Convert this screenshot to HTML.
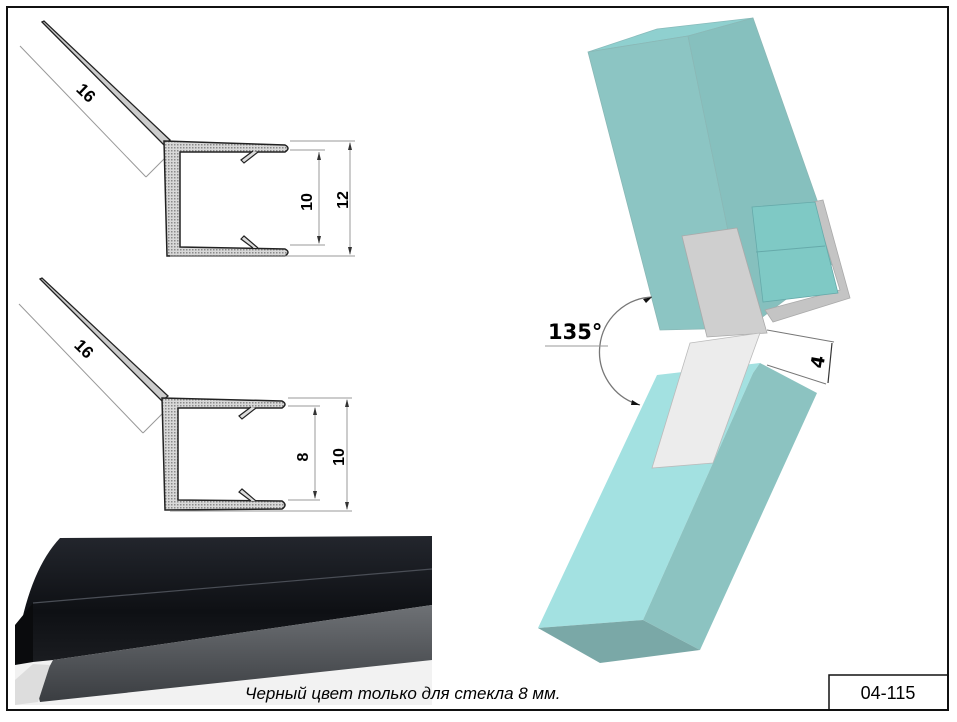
<!DOCTYPE html>
<html><head><meta charset="utf-8"><style>
html,body{margin:0;padding:0;background:#fff;}
svg{display:block;}
</style></head><body>
<svg width="957" height="722" viewBox="0 0 957 722" xmlns="http://www.w3.org/2000/svg" font-family="Liberation Sans, sans-serif">
<defs>
<pattern id="dots" width="3" height="3" patternUnits="userSpaceOnUse"><rect width="3" height="3" fill="#d8d8d8"/><rect width="1.5" height="1.5" fill="#8a8a8a"/></pattern>
<linearGradient id="blk" x1="0" y1="0" x2="0" y2="1"><stop offset="0" stop-color="#23262d"/><stop offset="0.6" stop-color="#0e1014"/><stop offset="1" stop-color="#1a1c20"/></linearGradient>
<linearGradient id="gry" x1="0" y1="0" x2="0" y2="1"><stop offset="0" stop-color="#6e7175"/><stop offset="1" stop-color="#3a3d41"/></linearGradient>
</defs>
<rect x="0" y="0" width="957" height="722" fill="#fff"/>
<rect x="7" y="7" width="941" height="703" fill="none" stroke="#111" stroke-width="2"/>
<rect x="829" y="675" width="119" height="35" fill="none" stroke="#111" stroke-width="1.5"/>

<!-- Profile 1 -->
<g stroke="#222">
<line x1="20" y1="46" x2="146" y2="177" stroke="#999" stroke-width="1"/>
<line x1="146" y1="177" x2="165" y2="158" stroke="#999" stroke-width="1"/>
<polygon points="42,22 44,21 170,140 164,145" fill="#ccc" stroke-width="1.3"/>
<path d="M164,141 L285,145 Q291,148 285,152 L180,152 L180,247 L285,249 Q291,252 285,256 L167,256 Z" fill="url(#dots)" stroke-width="1.5"/>
<path d="M258,152 L244,163 L241,160 L253,151" fill="#ddd" stroke-width="1.2"/>
<path d="M258,248 L244,236 L241,239 L253,248" fill="#ddd" stroke-width="1.2"/>
<g stroke="#999" stroke-width="1" fill="none">
<line x1="290" y1="150" x2="325" y2="150"/><line x1="290" y1="245" x2="325" y2="245"/>
<line x1="290" y1="141" x2="355" y2="141"/><line x1="170" y1="256" x2="355" y2="256"/>
<line x1="319" y1="152" x2="319" y2="243"/><line x1="350" y1="143" x2="350" y2="254"/>
</g>
<path d="M319,152 l-2,8 h4 z M319,244 l-2,-8 h4 z M350,142 l-2,8 h4 z M350,255 l-2,-8 h4 z" fill="#333" stroke="none"/>
</g>
<text transform="translate(312,202) rotate(-90)" font-size="16" font-weight="bold" text-anchor="middle">10</text>
<text transform="translate(348,200) rotate(-90)" font-size="16" font-weight="bold" text-anchor="middle">12</text>
<text transform="translate(82,97) rotate(44)" font-size="17" font-weight="bold" text-anchor="middle">16</text>

<!-- Profile 2 -->
<g stroke="#222">
<line x1="19" y1="304" x2="143" y2="433" stroke="#999" stroke-width="1"/>
<line x1="143" y1="433" x2="163" y2="413" stroke="#999" stroke-width="1"/>
<polygon points="40,279 42,278 168,396 162,401" fill="#ccc" stroke-width="1.3"/>
<path d="M162,398 L282,401 Q288,404 282,408 L178,408 L178,500 L282,501 Q288,505 282,509 L165,510 Z" fill="url(#dots)" stroke-width="1.5"/>
<path d="M256,408 L242,419 L239,416 L251,407" fill="#ddd" stroke-width="1.2"/>
<path d="M256,501 L242,489 L239,492 L251,501" fill="#ddd" stroke-width="1.2"/>
<g stroke="#999" stroke-width="1" fill="none">
<line x1="288" y1="406" x2="320" y2="406"/><line x1="288" y1="500" x2="320" y2="500"/>
<line x1="288" y1="398" x2="352" y2="398"/><line x1="170" y1="511" x2="352" y2="511"/>
<line x1="315" y1="408" x2="315" y2="498"/><line x1="347" y1="400" x2="347" y2="509"/>
</g>
<path d="M315,407 l-2,8 h4 z M315,499 l-2,-8 h4 z M347,399 l-2,8 h4 z M347,510 l-2,-8 h4 z" fill="#333" stroke="none"/>
</g>
<text transform="translate(308,457) rotate(-90)" font-size="16" font-weight="bold" text-anchor="middle">8</text>
<text transform="translate(344,457) rotate(-90)" font-size="16" font-weight="bold" text-anchor="middle">10</text>
<text transform="translate(80,353) rotate(44)" font-size="17" font-weight="bold" text-anchor="middle">16</text>

<!-- Photo -->
<path d="M15,705 L15,630 L432,600 L432,705 Z" fill="#f2f2f2"/>
<path d="M60,538 L432,536 L432,605 L53,660 L33,662 L18,640 Q30,570 60,538 Z" fill="url(#blk)"/>
<line x1="33" y1="603" x2="432" y2="569" stroke="#4a4e56" stroke-width="1.2"/>
<path d="M15,625 L33,603 L33,662 L15,665 Z" fill="#0a0b0d"/>
<path d="M53,660 L432,605 L432,660 L40,702 L37,690 Z" fill="url(#gry)"/>
<path d="M15,680 L33,664 L50,665 L38,702 L15,705 Z" fill="#ddd"/>

<!-- Upper glass -->
<polygon points="588,52 657,29 753,18 688,36" fill="#8fd0cf" stroke="#8bb" stroke-width="0.8"/>
<polygon points="588,52 688,36 748,328 660,330" fill="#8cc5c3" stroke="#8ab8b6" stroke-width="0.8"/>
<polygon points="688,36 753,18 838,260 748,328" fill="#86c0be" stroke="#8ab8b6" stroke-width="0.8"/>
<polygon points="813,202 823,200 850,298 773,322 765,310 840,290" fill="#c4c4c4" stroke="#aaa" stroke-width="0.8"/>
<polygon points="752,207 815,202 838,293 763,302" fill="#7fc9c5" stroke="#6aa" stroke-width="0.8"/>
<line x1="756" y1="252" x2="825" y2="246" stroke="#6aa" stroke-width="1"/>
<polygon points="682,236 737,228 767,333 707,337" fill="#cfcfcf" stroke="#aaa" stroke-width="0.8"/>
<!-- Lower glass -->
<polygon points="657,375 760,363 753,373 643,620 538,628" fill="#a3e1e1"/>
<polygon points="760,363 817,393 700,650 643,620 753,373" fill="#8cc3c1"/>
<polygon points="538,628 643,620 700,650 600,663" fill="#7aa8a7"/>
<polygon points="690,343 760,333 713,463 652,468" fill="#ececec" stroke="#bbb" stroke-width="0.8"/>
<!-- 135 -->
<path d="M652,297 A 55 55 0 0 0 640,405" fill="none" stroke="#777" stroke-width="1.3"/>
<path d="M652,297 l-9,2 l3,4 z M640,405 l-8,-5 l-1,5 z" fill="#111"/>
<line x1="545" y1="346" x2="608" y2="346" stroke="#999" stroke-width="1"/>
<text x="548" y="339" font-size="21" font-weight="bold" font-family="DejaVu Sans, sans-serif">135°</text>
<!-- 4 -->
<line x1="767" y1="330" x2="834" y2="342" stroke="#777" stroke-width="1"/>
<line x1="767" y1="365" x2="826" y2="384" stroke="#777" stroke-width="1"/>
<line x1="832" y1="343" x2="828" y2="383" stroke="#333" stroke-width="1.2"/>
<text transform="translate(824,363) rotate(-80)" font-size="18" font-weight="bold" text-anchor="middle" font-family="DejaVu Sans, sans-serif">4</text>

<text x="245" y="699" font-size="17" font-style="italic">Черный цвет только для стекла 8 мм.</text>
<text x="888" y="699" font-size="18" text-anchor="middle">04-115</text>
</svg>
</body></html>
